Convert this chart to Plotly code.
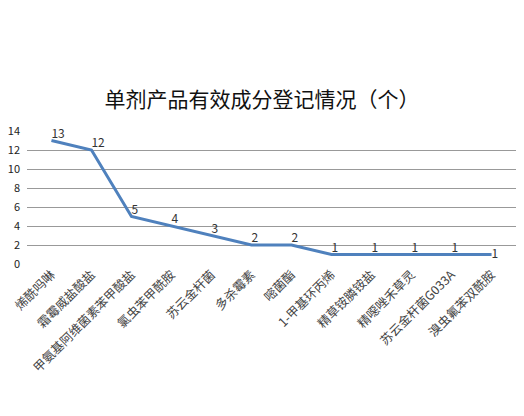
import plotly.graph_objects as go

categories = ["烯酰吗啉", "霜霉威盐酸盐", "甲氨基阿维菌素苯甲酸盐", "氯虫苯甲酰胺", "苏云金杆菌",
              "多杀霉素", "嘧菌酯", "1-甲基环丙烯", "精草铵膦铵盐", "精噁唑禾草灵",
              "苏云金杆菌G033A", "溴虫氟苯双酰胺"]
values = [13, 12, 5, 4, 3, 2, 2, 1, 1, 1, 1, 1]
y_ticks = [0, 2, 4, 6, 8, 10, 12, 14]
title_text = "单剂产品有效成分登记情况（个）"

# page body has an 8px margin, so the figure is sized/offset to compensate
W, H = 508, 400
positions = ["top right"] * (len(values) - 1) + ["middle right"]
fig = go.Figure()
fig.add_trace(go.Scatter(
    x=categories, y=values, mode="lines+text",
    line=dict(color="#4f81bd", width=3),
    text=[str(v) for v in values], textposition=positions,
    textfont=dict(family="Noto Sans CJK SC, Liberation Sans", size=12, color="#333333"),
    cliponaxis=False, showlegend=False,
))
fig.update_layout(
    width=W, height=H,
    margin=dict(l=19, r=0, t=123, b=144, autoexpand=False),
    paper_bgcolor="white", plot_bgcolor="white",
    title=dict(text=title_text, x=0.5, xanchor="center", y=1 - 92 / H, yanchor="middle",
               font=dict(family="Noto Sans CJK SC", size=21, color="#111111")),
    font=dict(family="Noto Sans CJK SC, Liberation Sans", color="#333333"),
)
fig.update_xaxes(tickangle=-45, tickfont=dict(size=12.5, color="#444444"), showgrid=False,
                 showline=False, ticks="", zeroline=False, automargin=False)
fig.update_yaxes(range=[0, 14], tickvals=y_ticks, tickfont=dict(size=11, color="#222222"),
                 showgrid=True, gridcolor="#999999", gridwidth=1, zeroline=False,
                 showline=False, ticks="", ticklabelstandoff=6, automargin=False)
fig.write_html("out.html")
